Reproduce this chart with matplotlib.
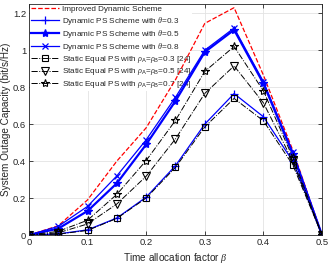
import matplotlib
matplotlib.use("Agg")
import matplotlib.pyplot as plt

beta = [0, 0.05, 0.1, 0.15, 0.2, 0.25, 0.3, 0.35, 0.4, 0.45, 0.5]
improved = [0, 0.05, 0.19, 0.40, 0.58, 0.84, 1.145, 1.23, 0.865, 0.46, 0]
dyn_03 = [0, 0.006, 0.028, 0.092, 0.205, 0.375, 0.60, 0.765, 0.64, 0.40, 0]
dyn_05 = [0, 0.035, 0.13, 0.28, 0.49, 0.725, 0.99, 1.11, 0.82, 0.44, 0]
dyn_08 = [0, 0.047, 0.155, 0.32, 0.515, 0.745, 1.0, 1.12, 0.83, 0.45, 0]
st_03 = [0, 0.005, 0.025, 0.09, 0.20, 0.366, 0.585, 0.739, 0.618, 0.38, 0]
st_05 = [0, 0.012, 0.06, 0.168, 0.318, 0.52, 0.766, 0.915, 0.715, 0.40, 0]
st_07 = [0, 0.02, 0.08, 0.22, 0.403, 0.62, 0.885, 1.02, 0.78, 0.42, 0]

xticks = [0, 0.1, 0.2, 0.3, 0.4, 0.5]
yticks = [0, 0.2, 0.4, 0.6, 0.8, 1.0, 1.2]
ytick_labels = ["0", "0.2", "0.4", "0.6", "0.8", "1", "1.2"]
xtick_labels = ["0", "0.1", "0.2", "0.3", "0.4", "0.5"]

plt.rcParams['font.family'] = ['Liberation Sans', 'DejaVu Sans']
plt.rcParams['mathtext.fontset'] = 'custom'
plt.rcParams['mathtext.rm'] = 'Liberation Sans'
plt.rcParams['mathtext.it'] = 'Liberation Serif:italic'
fig = plt.figure(figsize=(3.32, 2.65), dpi=100)
ax = fig.add_axes([0.087, 0.113, 0.883, 0.872])

blue = '#0000ff'
ax.plot(beta, improved, '--', color='red', lw=0.9, label='Improved Dynamic Scheme')
ax.plot(beta, dyn_03, '-', color=blue, lw=0.9, marker='+', ms=6, mew=0.9,
        label=r'Dynamic PS Scheme with $\theta$=0.3')
ax.plot(beta, dyn_05, '-', color=blue, lw=1.6, marker='*', ms=6, mew=0.9,
        label=r'Dynamic PS Scheme with $\theta$=0.5')
ax.plot(beta, dyn_08, '-', color=blue, lw=0.9, marker='x', ms=5, mew=0.9,
        label=r'Dynamic PS Scheme with $\theta$=0.8')
ax.plot(beta, st_03, '-.', color='black', lw=0.7, marker='s', ms=4.5, mfc='none', mew=0.8,
        label=r'Static Equal PS with $\rho_{\rm A}$=$\rho_{\rm B}$=0.3 [24]')
ax.plot(beta, st_05, '-.', color='black', lw=0.7, marker='v', ms=5.5, mfc='none', mew=0.8,
        label=r'Static Equal PS with $\rho_{\rm A}$=$\rho_{\rm B}$=0.5 [24]')
ax.plot(beta, st_07, '-.', color='black', lw=0.7, marker='*', ms=6, mfc='none', mew=0.8,
        label=r'Static Equal PS with $\rho_{\rm A}$=$\rho_{\rm B}$=0.7 [24]')

ax.set_xlim(0, 0.5)
ax.set_ylim(0, 1.25)
ax.set_xticks(xticks)
ax.set_xticklabels(xtick_labels)
ax.set_yticks(yticks)
ax.set_yticklabels(ytick_labels)
ax.tick_params(direction='in', labelsize=6.8, top=True, right=True, length=3, width=0.6, pad=2,
               colors='#262626')
ax.grid(True, color='#e3e3e3', lw=0.6)
for s in ax.spines.values():
    s.set_linewidth(0.6)
    s.set_color('#262626')

ax.set_xlabel(r'Time allocation factor $\beta$', fontsize=7.2, labelpad=3, color='#262626')
ax.set_ylabel('System Outage Capacity (bit/s/Hz)', fontsize=7.2, labelpad=1, color='#262626')

leg = ax.legend(loc='upper left', fontsize=5.9, frameon=True, fancybox=False,
                edgecolor='none', facecolor='white', framealpha=1, handlelength=3.5,
                borderpad=0.1, labelspacing=0.15, handletextpad=0.35, borderaxespad=0.1)
leg.set_zorder(1.8)
for t in leg.get_texts():
    t.set_color('#262626')

fig.savefig('out.png', dpi=100)
